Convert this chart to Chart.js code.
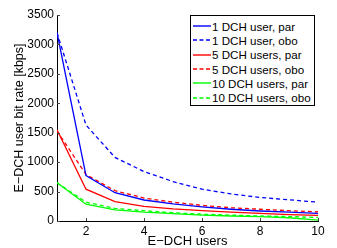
<!DOCTYPE html>
<html>
<head>
<meta charset="utf-8">
<script src="https://cdn.jsdelivr.net/npm/chart.js@4.4.0/dist/chart.umd.min.js"></script>
<style>
  html, body { margin: 0; padding: 0; background: #fff; }
  #wrap { position: relative; width: 337px; height: 248px; }
  #legend {
    position: absolute; left: 190px; top: 15px; width: 123px; height: 86px;
    border: 1px solid #000; background: #fff; box-sizing: content-box;
    font: 11.6px "Liberation Sans", Arial, sans-serif; color: #000;
    padding-top: 3px; white-space: nowrap; overflow: hidden;
  }
  .row { height: 14.3px; display: flex; align-items: center; }
  .row svg { flex: 0 0 auto; margin-left: 2px; margin-right: 1px; }
</style>
</head>
<body>
<div id="wrap">
  <canvas id="chart" width="337" height="248"></canvas>
  <div id="legend"></div>
</div>
<script>
// values
const users = [1, 2, 3, 4, 5, 6, 7, 8, 9, 10];
const oneUserPar = [3200, 770, 480, 357, 290, 240, 200, 170, 150, 130];
const oneUserObo = [3200, 1630, 1080, 840, 670, 540, 460, 400, 360, 320];
const fiveUsersPar = [1550, 540, 330, 250, 205, 175, 150, 130, 110, 95];
const fiveUsersObo = [1530, 790, 515, 390, 320, 265, 225, 200, 175, 155];
const tenUsersPar = [650, 285, 190, 150, 125, 100, 85, 75, 55, 15];
const tenUsersObo = [650, 320, 215, 175, 140, 115, 100, 85, 75, 60];

const seriesNames = [
  "1 DCH user, par", "1 DCH user, obo",
  "5 DCH users, par", "5 DCH users, obo",
  "10 DCH users, par", "10 DCH users, obo"
];
const xTicks = [2, 4, 6, 8, 10];
const yTicks = [0, 500, 1000, 1500, 2000, 2500, 3000, 3500];

const series = [oneUserPar, oneUserObo, fiveUsersPar, fiveUsersObo, tenUsersPar, tenUsersObo];
const colors = ["#0000ff", "#0000ff", "#ff0000", "#ff0000", "#00ff00", "#00ff00"];

const datasets = series.map((vals, i) => ({
  label: seriesNames[i],
  data: vals.map((v, j) => ({ x: users[j], y: v })),
  borderColor: colors[i],
  borderWidth: 1.3,
  borderDash: i % 2 === 1 ? [4, 3] : [],
  pointRadius: 0,
  tension: 0,
  fill: false
}));

// ticks pointing into the plot, as matlab does
const innerTicks = {
  id: "innerTicks",
  afterDraw(chart) {
    const ctx = chart.ctx;
    const a = chart.chartArea;
    const xs = chart.scales.x, ys = chart.scales.y;
    ctx.save();
    ctx.strokeStyle = "#444";
    ctx.lineWidth = 1;
    ctx.beginPath();
    yTicks.forEach(v => {
      const y = Math.round(ys.getPixelForValue(v)) + 0.5;
      ctx.moveTo(a.left, y); ctx.lineTo(a.left + 3, y);
    });
    xTicks.forEach(v => {
      const x = Math.round(xs.getPixelForValue(v)) + 0.5;
      ctx.moveTo(x, a.bottom); ctx.lineTo(x, a.bottom - 3);
    });
    ctx.stroke();
    ctx.restore();
  }
};

const family = "'Liberation Sans', Arial, sans-serif";
const tickFont = { family, size: 12 };

new Chart(document.getElementById("chart"), {
  type: "line",
  data: { datasets },
  options: {
    responsive: false,
    animation: false,
    layout: { padding: { top: 15, right: 19, left: 0, bottom: 0 } },
    plugins: { legend: { display: false }, tooltip: { enabled: false } },
    scales: {
      x: {
        type: "linear",
        min: 1, max: 10,
        afterBuildTicks: s => { s.ticks = xTicks.map(v => ({ value: v })); },
        afterFit: s => { s.height = 27; },
        grid: { display: false, drawTicks: false },
        border: { display: true, color: "#000", width: 1 },
        ticks: { color: "#000", font: tickFont, padding: 3, maxRotation: 0, callback: v => String(v) },
        title: { display: true, text: "E−DCH users", color: "#000",
                 font: { family, size: 13 }, padding: { top: 0, bottom: -1 } }
      },
      y: {
        min: 0, max: 3500,
        afterBuildTicks: s => { s.ticks = yTicks.map(v => ({ value: v })); },
        afterFit: s => { s.width = 57; },
        grid: { display: false, drawTicks: false },
        border: { display: true, color: "#000", width: 1 },
        ticks: { color: "#000", font: tickFont, padding: 3, callback: v => String(v) },
        title: { display: true, text: "E−DCH user bit rate [kbps]", color: "#000",
                 font: { family, size: 12.5 }, padding: { top: 12, bottom: 0 } }
      }
    }
  },
  plugins: [innerTicks]
});

// legend box, swatches as small svg lines
const legend = document.getElementById("legend");
const svgNS = "http://www.w3.org/2000/svg";
seriesNames.forEach((name, i) => {
  const row = document.createElement("div");
  row.className = "row";
  const svg = document.createElementNS(svgNS, "svg");
  svg.setAttribute("width", "18");
  svg.setAttribute("height", "4");
  const ln = document.createElementNS(svgNS, "line");
  ln.setAttribute("x1", "0"); ln.setAttribute("x2", "18");
  ln.setAttribute("y1", "2"); ln.setAttribute("y2", "2");
  ln.setAttribute("stroke", colors[i]);
  ln.setAttribute("stroke-width", "1.4");
  if (i % 2 === 1) ln.setAttribute("stroke-dasharray", "4 2.5");
  svg.appendChild(ln);
  const txt = document.createElement("span");
  txt.textContent = name;
  row.appendChild(svg);
  row.appendChild(txt);
  legend.appendChild(row);
});
</script>
</body>
</html>
